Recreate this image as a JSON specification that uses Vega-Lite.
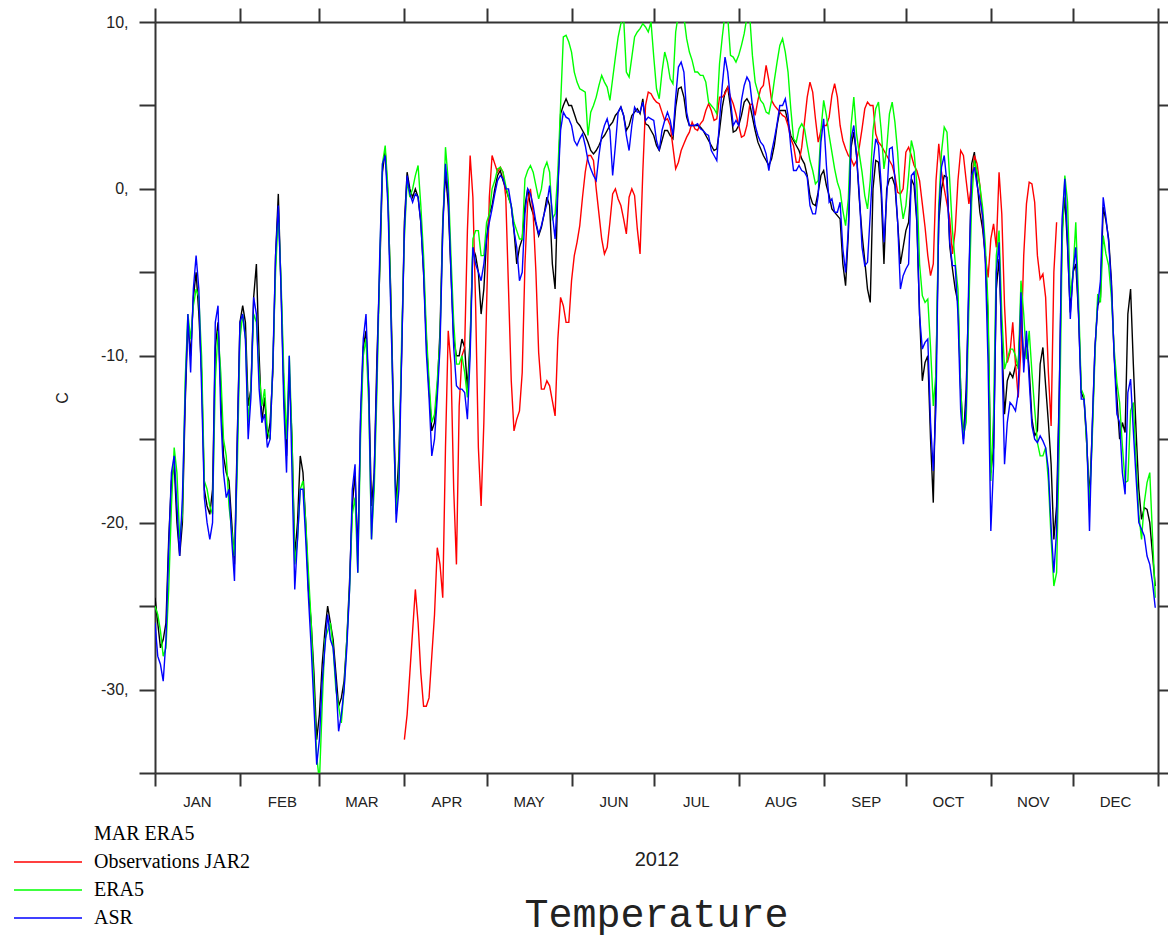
{
  "$schema": "https://vega.github.io/schema/vega-lite/v6.json",
  "autosize": {"type": "none"},
  "width": 1003,
  "height": 751,
  "padding": {"left": 155, "top": 22, "right": 10, "bottom": 166},
  "background": "white",
  "config": {"view": {"stroke": null}, "axis": {"grid": false}},
  "title": {"text": "Temperature", "orient": "bottom", "anchor": "middle", "font": "Liberation Mono", "fontSize": 40, "fontWeight": "normal", "color": "#222", "offset": -33},
  "data": {"values": [
{"d":0,"m":-24.5,"e":-25,"a":-26},{"d":1,"m":-26,"e":-25.5,"a":-28},{"d":2,"m":-27.5,"e":-26.5,"a":-28.5},{"d":3,"m":-27,"e":-28,"a":-29.5},{"d":4,"m":-26,"e":-27.5,"a":-27},{"d":5,"m":-21,"e":-24,"a":-21.5},{"d":6,"m":-17.5,"e":-19,"a":-17},{"d":7,"m":-16.5,"e":-15.5,"a":-16},{"d":8,"m":-20,"e":-17,"a":-19},{"d":9,"m":-22,"e":-21,"a":-22},
{"d":10,"m":-20,"e":-19.5,"a":-18.5},{"d":11,"m":-13,"e":-11.5,"a":-12.5},{"d":12,"m":-8,"e":-7.5,"a":-7.5},{"d":13,"m":-10,"e":-9,"a":-11},{"d":14,"m":-6.5,"e":-7,"a":-6},{"d":15,"m":-5,"e":-6,"a":-4},{"d":16,"m":-7.5,"e":-6.5,"a":-6},{"d":17,"m":-11,"e":-10,"a":-12},{"d":18,"m":-18,"e":-17.5,"a":-18.5},{"d":19,"m":-19,"e":-18,"a":-20},
{"d":20,"m":-19.5,"e":-19,"a":-21},{"d":21,"m":-18,"e":-19.5,"a":-20},{"d":22,"m":-9.5,"e":-11.5,"a":-8},{"d":23,"m":-8,"e":-8.5,"a":-7},{"d":24,"m":-12,"e":-11,"a":-13.5},{"d":25,"m":-16,"e":-15,"a":-17},{"d":26,"m":-17,"e":-16,"a":-18.5},{"d":27,"m":-17.5,"e":-19,"a":-18},{"d":28,"m":-20,"e":-20.5,"a":-21},{"d":29,"m":-22.5,"e":-22,"a":-23.5},
{"d":30,"m":-15,"e":-17,"a":-15.5},{"d":31,"m":-8,"e":-9,"a":-8},{"d":32,"m":-7,"e":-7.5,"a":-7.5},{"d":33,"m":-8,"e":-9,"a":-9},{"d":34,"m":-13,"e":-14,"a":-15},{"d":35,"m":-12,"e":-12,"a":-12.5},{"d":36,"m":-6.5,"e":-7.5,"a":-6.5},{"d":37,"m":-4.5,"e":-8,"a":-7.5},{"d":38,"m":-10,"e":-11,"a":-12},{"d":39,"m":-14,"e":-13,"a":-14},
{"d":40,"m":-12.5,"e":-12,"a":-13.5},{"d":41,"m":-15,"e":-14.5,"a":-15.5},{"d":42,"m":-14,"e":-15,"a":-15},{"d":43,"m":-11,"e":-10.5,"a":-10.5},{"d":44,"m":-4,"e":-5,"a":-4},{"d":45,"m":-0.3,"e":-1.5,"a":-1},{"d":46,"m":-6,"e":-5.5,"a":-6},{"d":47,"m":-12,"e":-11,"a":-13},{"d":48,"m":-16,"e":-15,"a":-17},{"d":49,"m":-11,"e":-10,"a":-10},
{"d":50,"m":-15,"e":-15,"a":-17},{"d":51,"m":-22,"e":-22.5,"a":-24},{"d":52,"m":-20,"e":-21,"a":-21},{"d":53,"m":-16,"e":-18,"a":-18},{"d":54,"m":-17,"e":-17.5,"a":-18},{"d":55,"m":-20,"e":-20,"a":-21},{"d":56,"m":-24,"e":-23,"a":-24.5},{"d":57,"m":-26,"e":-26,"a":-27.5},{"d":58,"m":-29,"e":-30,"a":-31},{"d":59,"m":-33,"e":-34,"a":-34.5},
{"d":60,"m":-31.5,"e":-35.5,"a":-33},{"d":61,"m":-28.5,"e":-31,"a":-29.5},{"d":62,"m":-26.5,"e":-27,"a":-27.5},{"d":63,"m":-25,"e":-26.5,"a":-25.5},{"d":64,"m":-26,"e":-26,"a":-27},{"d":65,"m":-27,"e":-27.5,"a":-27.5},{"d":66,"m":-29,"e":-30,"a":-29.5},{"d":67,"m":-31,"e":-31,"a":-32.5},{"d":68,"m":-30.5,"e":-32,"a":-31.5},{"d":69,"m":-29.5,"e":-30,"a":-30},
{"d":70,"m":-27,"e":-27,"a":-27.5},{"d":71,"m":-23.5,"e":-24,"a":-24},{"d":72,"m":-19,"e":-19.5,"a":-18},{"d":73,"m":-17,"e":-18.5,"a":-16.5},{"d":74,"m":-22,"e":-23,"a":-23},{"d":75,"m":-14,"e":-15,"a":-13.5},{"d":76,"m":-9.5,"e":-10,"a":-9},{"d":77,"m":-8.5,"e":-9,"a":-7.5},{"d":78,"m":-12,"e":-13,"a":-12},{"d":79,"m":-19,"e":-21,"a":-21},
{"d":80,"m":-17,"e":-18,"a":-17},{"d":81,"m":-10,"e":-12,"a":-11},{"d":82,"m":-5,"e":-4.5,"a":-4},{"d":83,"m":1,"e":1.5,"a":1.5},{"d":84,"m":2.3,"e":2.6,"a":2},{"d":85,"m":-0.5,"e":0,"a":-1},{"d":86,"m":-6,"e":-6.5,"a":-7},{"d":87,"m":-13,"e":-14,"a":-13.5},{"d":88,"m":-19,"e":-19.5,"a":-20},{"d":89,"m":-16,"e":-17,"a":-18},
{"d":90,"m":-10,"e":-9,"a":-10},{"d":91,"m":-2,"e":-3,"a":-2.5,"o":-33},{"d":92,"m":1,"e":0.5,"a":0.8,"o":-31.5},{"d":93,"m":0,"e":-0.5,"a":-0.3,"o":-29},{"d":94,"m":-0.5,"e":0,"a":-0.8,"o":-26.5},{"d":95,"m":0,"e":0.8,"a":-0.3,"o":-24},{"d":96,"m":-0.5,"e":1.4,"a":-0.5,"o":-26},{"d":97,"m":-2,"e":-1,"a":-2,"o":-29},{"d":98,"m":-5,"e":-4,"a":-5,"o":-31},{"d":99,"m":-9,"e":-8.5,"a":-9.8,"o":-31},
{"d":100,"m":-12,"e":-11.5,"a":-12.5,"o":-30.5},{"d":101,"m":-14.5,"e":-14,"a":-16,"o":-28},{"d":102,"m":-14,"e":-13.5,"a":-15,"o":-25.5},{"d":103,"m":-12,"e":-11.5,"a":-12.5,"o":-21.5},{"d":104,"m":-8.5,"e":-9,"a":-9.5,"o":-22.5},{"d":105,"m":-2,"e":-2.5,"a":-2.5,"o":-24.5},{"d":106,"m":1,"e":2.5,"a":1.5,"o":-15.5},{"d":107,"m":-1,"e":0.5,"a":-0.3,"o":-8.5},{"d":108,"m":-5,"e":-4,"a":-5,"o":-10.5},{"d":109,"m":-9,"e":-8,"a":-9.5,"o":-18},
{"d":110,"m":-10,"e":-10.5,"a":-11.8,"o":-22.5},{"d":111,"m":-10,"e":-10.5,"a":-12,"o":-13},{"d":112,"m":-9,"e":-10,"a":-12,"o":-10},{"d":113,"m":-9.5,"e":-11,"a":-12.2,"o":-9.5},{"d":114,"m":-12,"e":-12.5,"a":-13.8,"o":-2.5},{"d":115,"m":-9,"e":-9.5,"a":-10,"o":2},{"d":116,"m":-3.5,"e":-3,"a":-3.5,"o":-0.5},{"d":117,"m":-4,"e":-2.5,"a":-4.5,"o":-7},{"d":118,"m":-5,"e":-2.5,"a":-5,"o":-15.5},{"d":119,"m":-7.5,"e":-4,"a":-5.5,"o":-19},
{"d":120,"m":-6,"e":-4,"a":-4.5,"o":-14},{"d":121,"m":-3,"e":-2,"a":-3,"o":-7},{"d":122,"m":-1.5,"e":-1.5,"a":-2,"o":-0.5},{"d":123,"m":-1,"e":0,"a":-1.2,"o":2},{"d":124,"m":0,"e":0.5,"a":-0.3,"o":1.5},{"d":125,"m":0.8,"e":1.2,"a":0.5,"o":1},{"d":126,"m":1.1,"e":1.3,"a":0.8,"o":1.3},{"d":127,"m":0.5,"e":1,"a":0.6,"o":1},{"d":128,"m":0,"e":0.2,"a":0,"o":-0.5},{"d":129,"m":-0.5,"e":-0.5,"a":0,"o":-6},
{"d":130,"m":-1,"e":-1,"a":-1,"o":-11.5},{"d":131,"m":-2.5,"e":-2,"a":-2.5,"o":-14.5},{"d":132,"m":-4.5,"e":-2.5,"a":-3.5,"o":-13.8},{"d":133,"m":-3.5,"e":-3,"a":-5.5,"o":-13.3},{"d":134,"m":-3,"e":-3,"a":-5,"o":-11},{"d":135,"m":-1,"e":0.6,"a":-1.5,"o":-4.5},{"d":136,"m":0,"e":1.1,"a":0,"o":-0.8},{"d":137,"m":-1,"e":1.4,"a":-0.3,"o":0},{"d":138,"m":-1.5,"e":1,"a":-1,"o":-1.5},{"d":139,"m":-2.1,"e":0.2,"a":-2,"o":-5},
{"d":140,"m":-2.8,"e":-0.6,"a":-2.7,"o":-9.8},{"d":141,"m":-2.3,"e":0,"a":-2.2,"o":-12},{"d":142,"m":-1.5,"e":1.2,"a":-1.5,"o":-12},{"d":143,"m":-0.5,"e":1.6,"a":-0.9,"o":-11.5},{"d":144,"m":-1,"e":1,"a":0.2,"o":-11.8},{"d":145,"m":-4.5,"e":-1.8,"a":-1.5,"o":-12.7},{"d":146,"m":-6,"e":-1.5,"a":-3,"o":-13.6},{"d":147,"m":0,"e":1,"a":0,"o":-9},{"d":148,"m":4.5,"e":5,"a":3.5,"o":-6.5},{"d":149,"m":5,"e":9.1,"a":4.6,"o":-7},
{"d":150,"m":5.4,"e":9.2,"a":4.3,"o":-8},{"d":151,"m":5,"e":8.8,"a":4.2,"o":-8},{"d":152,"m":5,"e":8.2,"a":3.8,"o":-5.5},{"d":153,"m":4.5,"e":7,"a":2.9,"o":-4},{"d":154,"m":4,"e":6.4,"a":2.6,"o":-3.2},{"d":155,"m":3.8,"e":6,"a":3,"o":-2.2},{"d":156,"m":3.5,"e":5.9,"a":3.3,"o":-0.5},{"d":157,"m":3.2,"e":5.8,"a":2.6,"o":1},{"d":158,"m":2.8,"e":3.2,"a":1.7,"o":2},{"d":159,"m":2.3,"e":4.6,"a":1.2,"o":2},
{"d":160,"m":2.1,"e":5,"a":0.8,"o":1.7},{"d":161,"m":2.3,"e":5.5,"a":0.5,"o":0},{"d":162,"m":2.6,"e":6.2,"a":2,"o":-1.5},{"d":163,"m":3,"e":6.8,"a":3.2,"o":-3},{"d":164,"m":3.2,"e":6.4,"a":3.8,"o":-3.9},{"d":165,"m":3.5,"e":6.1,"a":4.2,"o":-3.5},{"d":166,"m":3.8,"e":5.3,"a":3.5,"o":-2},{"d":167,"m":4,"e":6.6,"a":0.8,"o":-0.3},{"d":168,"m":4.4,"e":7.9,"a":2.6,"o":0},{"d":169,"m":4.6,"e":9.1,"a":4.6,"o":-0.6},
{"d":170,"m":4.9,"e":9.9,"a":4.9,"o":-1},{"d":171,"m":4.4,"e":10.3,"a":4.4,"o":-1.8},{"d":172,"m":3.5,"e":7,"a":3.2,"o":-2.7},{"d":173,"m":3.8,"e":6.7,"a":2.3,"o":-0.5},{"d":174,"m":4.4,"e":7.9,"a":3.8,"o":0},{"d":175,"m":4.6,"e":9.1,"a":4.9,"o":-0.4},{"d":176,"m":4.8,"e":9.4,"a":4.6,"o":-2.4},{"d":177,"m":4.5,"e":9.6,"a":4.6,"o":-3.9},{"d":178,"m":5.4,"e":9.9,"a":5.2,"o":1},{"d":179,"m":3.9,"e":9.7,"a":4.1,"o":5},
{"d":180,"m":3.8,"e":9.4,"a":4.3,"o":5.8},{"d":181,"m":3.5,"e":10,"a":4.2,"o":5.7},{"d":182,"m":3.2,"e":7.9,"a":4.1,"o":5.4},{"d":183,"m":2.6,"e":6,"a":2.9,"o":5.2},{"d":184,"m":2.3,"e":5.4,"a":2.3,"o":5.1},{"d":185,"m":2.9,"e":7,"a":3.5,"o":4.6},{"d":186,"m":3.5,"e":8.2,"a":4.1,"o":4.1},{"d":187,"m":3.5,"e":7.6,"a":4.6,"o":4.2},{"d":188,"m":3.2,"e":6.6,"a":4.1,"o":3.8},{"d":189,"m":3,"e":6.3,"a":3.2,"o":2.5},
{"d":190,"m":4.9,"e":9.4,"a":5.5,"o":1.2},{"d":191,"m":6,"e":10.5,"a":7.3,"o":1.6},{"d":192,"m":6.1,"e":10.5,"a":7.6,"o":2.3},{"d":193,"m":5.5,"e":10.3,"a":7,"o":2.7},{"d":194,"m":4.3,"e":9,"a":4.6,"o":3.1},{"d":195,"m":3.8,"e":8.2,"a":3.8,"o":3.4},{"d":196,"m":3.8,"e":7.7,"a":3.8,"o":4},{"d":197,"m":3.8,"e":7,"a":3.8,"o":3.6},{"d":198,"m":3.8,"e":7,"a":3.9,"o":3.5},{"d":199,"m":3.7,"e":6.8,"a":3.6,"o":3.9},
{"d":200,"m":3.5,"e":6.8,"a":3.5,"o":4.1},{"d":201,"m":3.2,"e":6.4,"a":3.3,"o":4.7},{"d":202,"m":2.9,"e":5.2,"a":3.2,"o":5.1},{"d":203,"m":2.6,"e":5,"a":2.3,"o":4.7},{"d":204,"m":2.3,"e":4.8,"a":2,"o":4.1},{"d":205,"m":2.4,"e":4.5,"a":1.7,"o":4.2},{"d":206,"m":3.5,"e":7.5,"a":4.1,"o":5.5},{"d":207,"m":4.9,"e":9.1,"a":6.2,"o":5.5},{"d":208,"m":5.8,"e":10.5,"a":7.9,"o":5.7},{"d":209,"m":6.1,"e":10.3,"a":7,"o":6.1},
{"d":210,"m":4.9,"e":8,"a":5.3,"o":5.5},{"d":211,"m":3.4,"e":7.9,"a":3.8,"o":5.1},{"d":212,"m":3.5,"e":7.6,"a":4.1,"o":4.5},{"d":213,"m":3.8,"e":8,"a":3.8,"o":3.8},{"d":214,"m":4.4,"e":8.6,"a":5.3,"o":3.1},{"d":215,"m":5.2,"e":9.3,"a":6.2,"o":3.2},{"d":216,"m":5.4,"e":10.3,"a":6.7,"o":3.8},{"d":217,"m":5.1,"e":10.4,"a":6.4,"o":5},{"d":218,"m":4.3,"e":8,"a":5,"o":5.1},{"d":219,"m":3.5,"e":6.4,"a":3.8,"o":4.4},
{"d":220,"m":2.8,"e":5.8,"a":3.2,"o":5.3},{"d":221,"m":2.4,"e":5.3,"a":2.8,"o":6},{"d":222,"m":2,"e":5.1,"a":2.6,"o":6.2},{"d":223,"m":1.7,"e":4.6,"a":2.1,"o":7.4},{"d":224,"m":1.4,"e":4.5,"a":1.1,"o":6.5},{"d":225,"m":1.8,"e":5.3,"a":2.2,"o":5.3},{"d":226,"m":2.6,"e":6.5,"a":3,"o":5},{"d":227,"m":3.8,"e":7.6,"a":3.9,"o":4.8},{"d":228,"m":4.7,"e":8.6,"a":5,"o":4.6},{"d":229,"m":4.7,"e":9,"a":5,"o":4.4},
{"d":230,"m":4.7,"e":8.2,"a":5.4,"o":4.3},{"d":231,"m":4,"e":7,"a":4.4,"o":3.8},{"d":232,"m":3.2,"e":4.8,"a":2.5,"o":3},{"d":233,"m":2.9,"e":3,"a":1.1,"o":2.6},{"d":234,"m":2.6,"e":2.8,"a":1.1,"o":1.6},{"d":235,"m":2.3,"e":3.6,"a":1.4,"o":1.6},{"d":236,"m":1.8,"e":3.9,"a":1.1,"o":2.5},{"d":237,"m":1.5,"e":3.6,"a":1,"o":4},{"d":238,"m":0.8,"e":2.6,"a":0.7,"o":5.5},{"d":239,"m":-0.4,"e":1.7,"a":-1,"o":6.4},
{"d":240,"m":-0.9,"e":1.1,"a":-1.5,"o":5.8},{"d":241,"m":-1,"e":0.3,"a":-1.5,"o":4.2},{"d":242,"m":-0.2,"e":0.5,"a":-0.4,"o":2.8},{"d":243,"m":0.8,"e":3.5,"a":2.8,"o":3.5},{"d":244,"m":1.1,"e":5.3,"a":4.2,"o":3.8},{"d":245,"m":0.2,"e":4.4,"a":1.4,"o":3.8},{"d":246,"m":-0.4,"e":3.2,"a":-0.8,"o":4.3},{"d":247,"m":-1.2,"e":2.2,"a":-0.6,"o":5.6},{"d":248,"m":-1.4,"e":1.2,"a":-1.4,"o":6.3},{"d":249,"m":-1.6,"e":0.4,"a":-1.4,"o":5.5},
{"d":250,"m":-1.8,"e":-0.1,"a":-0.8,"o":3.8},{"d":251,"m":-4.5,"e":-1.3,"a":-3.6,"o":2.9},{"d":252,"m":-5.8,"e":-2.2,"a":-5,"o":2.4},{"d":253,"m":-2.7,"e":-0.6,"a":-2.4,"o":2},{"d":254,"m":2.5,"e":3.8,"a":3,"o":1.8},{"d":255,"m":3.4,"e":5.5,"a":3.8,"o":1.4},{"d":256,"m":2,"e":3.3,"a":2,"o":1.7},{"d":257,"m":-0.6,"e":2.1,"a":-0.3,"o":2.5},{"d":258,"m":-2.7,"e":1,"a":-3.5,"o":3.6},{"d":259,"m":-4.3,"e":-0.4,"a":-4.6,"o":4.8},
{"d":260,"m":-6,"e":-1.2,"a":-4.4,"o":5.2},{"d":261,"m":-6.8,"e":0.5,"a":-1.5,"o":5},{"d":262,"m":0,"e":3.5,"a":1.5,"o":5},{"d":263,"m":1.7,"e":4.8,"a":3,"o":3.3},{"d":264,"m":1.6,"e":5.2,"a":2.6,"o":2.8},{"d":265,"m":-0.3,"e":3.5,"a":0.2,"o":2.6},{"d":266,"m":-4.5,"e":1.2,"a":-3.2,"o":2.3},{"d":267,"m":0,"e":2.4,"a":-0.5,"o":2},{"d":268,"m":0.6,"e":4.5,"a":2.4,"o":1.7},{"d":269,"m":0.7,"e":5.2,"a":2.5,"o":1.4},
{"d":270,"m":0.2,"e":4,"a":0.6,"o":0.8},{"d":271,"m":-2,"e":2.2,"a":-2,"o":-0.2},{"d":272,"m":-4.5,"e":-0.5,"a":-6,"o":-0.3},{"d":273,"m":-3.5,"e":-1.8,"a":-5.2,"o":0},{"d":274,"m":-2.5,"e":-1,"a":-4.8,"o":2.2},{"d":275,"m":-2,"e":0.8,"a":-4.5,"o":2.5},{"d":276,"m":0.6,"e":2.9,"a":0.8,"o":2},{"d":277,"m":0.2,"e":2.2,"a":1,"o":1.4},{"d":278,"m":-2,"e":0.3,"a":-1.8,"o":1.1},{"d":279,"m":-7.5,"e":-4.5,"a":-7.6,"o":0.5},
{"d":280,"m":-11.5,"e":-6.4,"a":-9.6,"o":-0.9},{"d":281,"m":-10.4,"e":-6.8,"a":-9.2,"o":-2.3},{"d":282,"m":-10,"e":-6.6,"a":-9,"o":-4},{"d":283,"m":-15,"e":-9.5,"a":-14,"o":-5.2},{"d":284,"m":-18.8,"e":-13,"a":-16.9,"o":-4.5},{"d":285,"m":-11,"e":-11,"a":-13,"o":0.5},{"d":286,"m":-2,"e":-1,"a":-1.5,"o":2.7},{"d":287,"m":0,"e":2.2,"a":1.3,"o":1},{"d":288,"m":0.8,"e":3.7,"a":2,"o":0},{"d":289,"m":0.7,"e":3.4,"a":0.3,"o":-0.9},
{"d":290,"m":-3.4,"e":0.5,"a":-3.2,"o":-1.8},{"d":291,"m":-4.8,"e":-2.5,"a":-4.6,"o":-3.9},{"d":292,"m":-6,"e":-4.4,"a":-4.6,"o":-2.5},{"d":293,"m":-6.8,"e":-6,"a":-7.5,"o":0.5},{"d":294,"m":-12,"e":-12,"a":-13.3,"o":2.3},{"d":295,"m":-15,"e":-14.8,"a":-15.3,"o":2},{"d":296,"m":-12,"e":-14,"a":-13,"o":0.5},{"d":297,"m":-6,"e":-7,"a":-5,"o":-0.9},{"d":298,"m":1.5,"e":-0.8,"a":0.8,"o":0.3},{"d":299,"m":2.2,"e":1.7,"a":1.3,"o":2},
{"d":300,"m":0.4,"e":1,"a":0.2,"o":1.5},{"d":301,"m":-1.4,"e":0.2,"a":-0.6,"o":0.2},{"d":302,"m":-2.4,"e":-1.1,"a":-1.6,"o":-1.8},{"d":303,"m":-4,"e":-3.4,"a":-4.5,"o":-4},{"d":304,"m":-8,"e":-7,"a":-10.5,"o":-5.3},{"d":305,"m":-17,"e":-17.5,"a":-20.5,"o":-3},{"d":306,"m":-15.5,"e":-13.5,"a":-16.5,"o":-2.1},{"d":307,"m":-6,"e":-4,"a":-5,"o":-3.5},{"d":308,"m":-4.2,"e":-2.5,"a":-3.2,"o":1},{"d":309,"m":-9,"e":-7.5,"a":-9.5,"o":-1.5},
{"d":310,"m":-13.5,"e":-10.8,"a":-16.5,"o":-7},{"d":311,"m":-11.5,"e":-10.2,"a":-14,"o":-10.4},{"d":312,"m":-11,"e":-9.6,"a":-12.8,"o":-9.8},{"d":313,"m":-11.3,"e":-9.6,"a":-13,"o":-8},{"d":314,"m":-10.6,"e":-10,"a":-13.3,"o":-10.5},{"d":315,"m":-10.5,"e":-10.8,"a":-12.2,"o":-12.5},{"d":316,"m":-7.2,"e":-5.5,"a":-6.2,"o":-9.5},{"d":317,"m":-10.5,"e":-7.5,"a":-11,"o":-4},{"d":318,"m":-9,"e":-10.2,"a":-8.5,"o":-0.9},{"d":319,"m":-10.8,"e":-8.5,"a":-11.5,"o":0.4},
{"d":320,"m":-13.8,"e":-11,"a":-14.2,"o":0.3},{"d":321,"m":-14.8,"e":-13.2,"a":-15,"o":-0.8},{"d":322,"m":-14.5,"e":-15.2,"a":-15.2,"o":-4},{"d":323,"m":-10.5,"e":-16,"a":-14.8,"o":-5.4},{"d":324,"m":-9.5,"e":-16,"a":-15.1,"o":-5.1},{"d":325,"m":-11.8,"e":-15.5,"a":-15.5,"o":-6.5},{"d":326,"m":-14,"e":-17.5,"a":-16.8,"o":-11},{"d":327,"m":-16.5,"e":-21,"a":-20.3,"o":-14.2},{"d":328,"m":-21,"e":-23.8,"a":-23,"o":-5},{"d":329,"m":-19,"e":-23,"a":-20.5,"o":-2},
{"d":330,"m":-12,"e":-15,"a":-12},{"d":331,"m":-2.5,"e":-3.5,"a":-1.8},{"d":332,"m":-0.5,"e":0.8,"a":0.6},{"d":333,"m":-3.5,"e":-0.8,"a":-3.2},{"d":334,"m":-7.4,"e":-6.5,"a":-7.8},{"d":335,"m":-5,"e":-5,"a":-5},{"d":336,"m":-4.5,"e":-2,"a":-3.5},{"d":337,"m":-7.5,"e":-6.5,"a":-7.5},{"d":338,"m":-12.2,"e":-12,"a":-12.6},{"d":339,"m":-12.6,"e":-12.4,"a":-12.6},
{"d":340,"m":-15.3,"e":-15.3,"a":-14.8},{"d":341,"m":-18.5,"e":-19,"a":-20.5},{"d":342,"m":-14.5,"e":-15,"a":-14.2},{"d":343,"m":-9.5,"e":-10,"a":-9.5},{"d":344,"m":-7,"e":-6.3,"a":-7},{"d":345,"m":-6.5,"e":-6.8,"a":-5.5},{"d":346,"m":-1.1,"e":-2.8,"a":-0.5},{"d":347,"m":-1.9,"e":-3.9,"a":-1.7},{"d":348,"m":-3,"e":-4.6,"a":-3.2},{"d":349,"m":-5.5,"e":-6.5,"a":-5.8},
{"d":350,"m":-10,"e":-9.6,"a":-10},{"d":351,"m":-12.5,"e":-11.6,"a":-13.5},{"d":352,"m":-15,"e":-12.8,"a":-14},{"d":353,"m":-14,"e":-15.4,"a":-17},{"d":354,"m":-14.6,"e":-17.6,"a":-18.3},{"d":355,"m":-7.5,"e":-17.5,"a":-12.2},{"d":356,"m":-6,"e":-13.3,"a":-11.4},{"d":357,"m":-10.5,"e":-12.8,"a":-14.5},{"d":358,"m":-14.5,"e":-16.3,"a":-17.3},{"d":359,"m":-18,"e":-19.5,"a":-20},
{"d":360,"m":-19.8,"e":-21,"a":-20.4},{"d":361,"m":-19.1,"e":-18.8,"a":-20.8},{"d":362,"m":-19.2,"e":-17.6,"a":-22},{"d":363,"m":-20,"e":-17,"a":-22.5},{"d":364,"m":-21.9,"e":-20.8,"a":-23.6},{"d":365,"m":-23.8,"e":-24.5,"a":-25.1}
  ]},
  "layer": [
    {
      "mark": {"type": "line", "clip": true, "strokeWidth": 1.4},
      "encoding": {
        "x": {"field": "d", "type": "quantitative", "scale": {"domain": [0, 366], "nice": false, "zero": false},
          "axis": {"orient": "bottom", "values": [0,31,60,91,121,152,182,213,244,274,305,335,366],
            "labelExpr": "['JAN','FEB','MAR','APR','MAY','JUN','JUL','AUG','SEP','OCT','NOV','DEC',''][indexof([0,31,60,91,121,152,182,213,244,274,305,335,366], datum.value)]",
            "labelOffset": 42, "labelAlign": "center", "tickSize": 13, "labelPadding": 8, "labelFont": "Liberation Sans", "labelFontSize": 15, "labelColor": "#222",
            "labelOverlap": false, "labelFlush": false, "labelBound": false,
            "domainColor": "#333", "domainWidth": 2, "tickColor": "#333", "tickWidth": 2,
            "title": "2012", "titleFont": "Liberation Sans", "titleFontSize": 20, "titleFontWeight": "normal", "titleColor": "#222", "titlePadding": 40}},
        "y": {"field": "m", "type": "quantitative", "scale": {"domain": [-35, 10], "nice": false, "zero": false},
          "axis": {"orient": "left", "values": [-35,-30,-25,-20,-15,-10,-5,0,5,10],
            "labelExpr": "datum.value % 10 == 0 ? datum.value + ',' : ''",
            "tickSize": 16, "labelPadding": 11, "labelFont": "Liberation Sans", "labelFontSize": 16, "labelColor": "#222",
            "labelOverlap": false, "labelFlush": false, "labelBound": false,
            "domainColor": "#333", "domainWidth": 2, "tickColor": "#333", "tickWidth": 2,
            "title": "C", "titleFont": "Liberation Sans", "titleFontSize": 16, "titleFontWeight": "normal", "titleColor": "#222", "titlePadding": 30}},
        "color": {"datum": "MAR ERA5", "type": "nominal",
          "scale": {"domain": ["MAR ERA5", "Observations JAR2", "ERA5", "ASR"], "range": ["#000000", "#ff0000", "#00ff00", "#0000ff"]},
          "legend": {"orient": "none", "legendX": -142, "legendY": 802, "title": null, "padding": 0,
            "symbolType": "M-4,0H4", "symbolSize": 289, "symbolStrokeWidth": 1.5, "symbolOffset": 25,
            "labelFont": "Liberation Serif", "labelFontSize": 20, "labelColor": "#000", "labelOffset": 36, "rowPadding": 8,
            "encode": {"symbols": {"update": {"strokeOpacity": [{"test": "datum.value === 'MAR ERA5'", "value": 0}, {"value": 1}]}}}}}
      }
    },
    {
      "mark": {"type": "line", "clip": true, "strokeWidth": 1.4},
      "encoding": {
        "x": {"field": "d", "type": "quantitative",
          "axis": {"orient": "top", "values": [0,31,60,91,121,152,182,213,244,274,305,335,366], "labels": false, "tickSize": 14,
            "domainColor": "#333", "domainWidth": 2, "tickColor": "#333", "tickWidth": 2, "title": null}},
        "y": {"field": "o", "type": "quantitative",
          "axis": {"orient": "right", "values": [-35,-30,-25,-20,-15,-10,-5,0,5,10], "labels": false, "tickSize": 10,
            "domainColor": "#333", "domainWidth": 2, "tickColor": "#333", "tickWidth": 2, "title": null}},
        "color": {"datum": "Observations JAR2", "type": "nominal"}
      }
    },
    {
      "mark": {"type": "line", "clip": true, "strokeWidth": 1.4},
      "encoding": {
        "x": {"field": "d", "type": "quantitative", "axis": null},
        "y": {"field": "e", "type": "quantitative", "axis": null},
        "color": {"datum": "ERA5", "type": "nominal"}
      }
    },
    {
      "mark": {"type": "line", "clip": true, "strokeWidth": 1.4},
      "encoding": {
        "x": {"field": "d", "type": "quantitative", "axis": null},
        "y": {"field": "a", "type": "quantitative", "axis": null},
        "color": {"datum": "ASR", "type": "nominal"}
      }
    }
  ],
  "resolve": {"axis": {"x": "independent", "y": "independent"}}
}
